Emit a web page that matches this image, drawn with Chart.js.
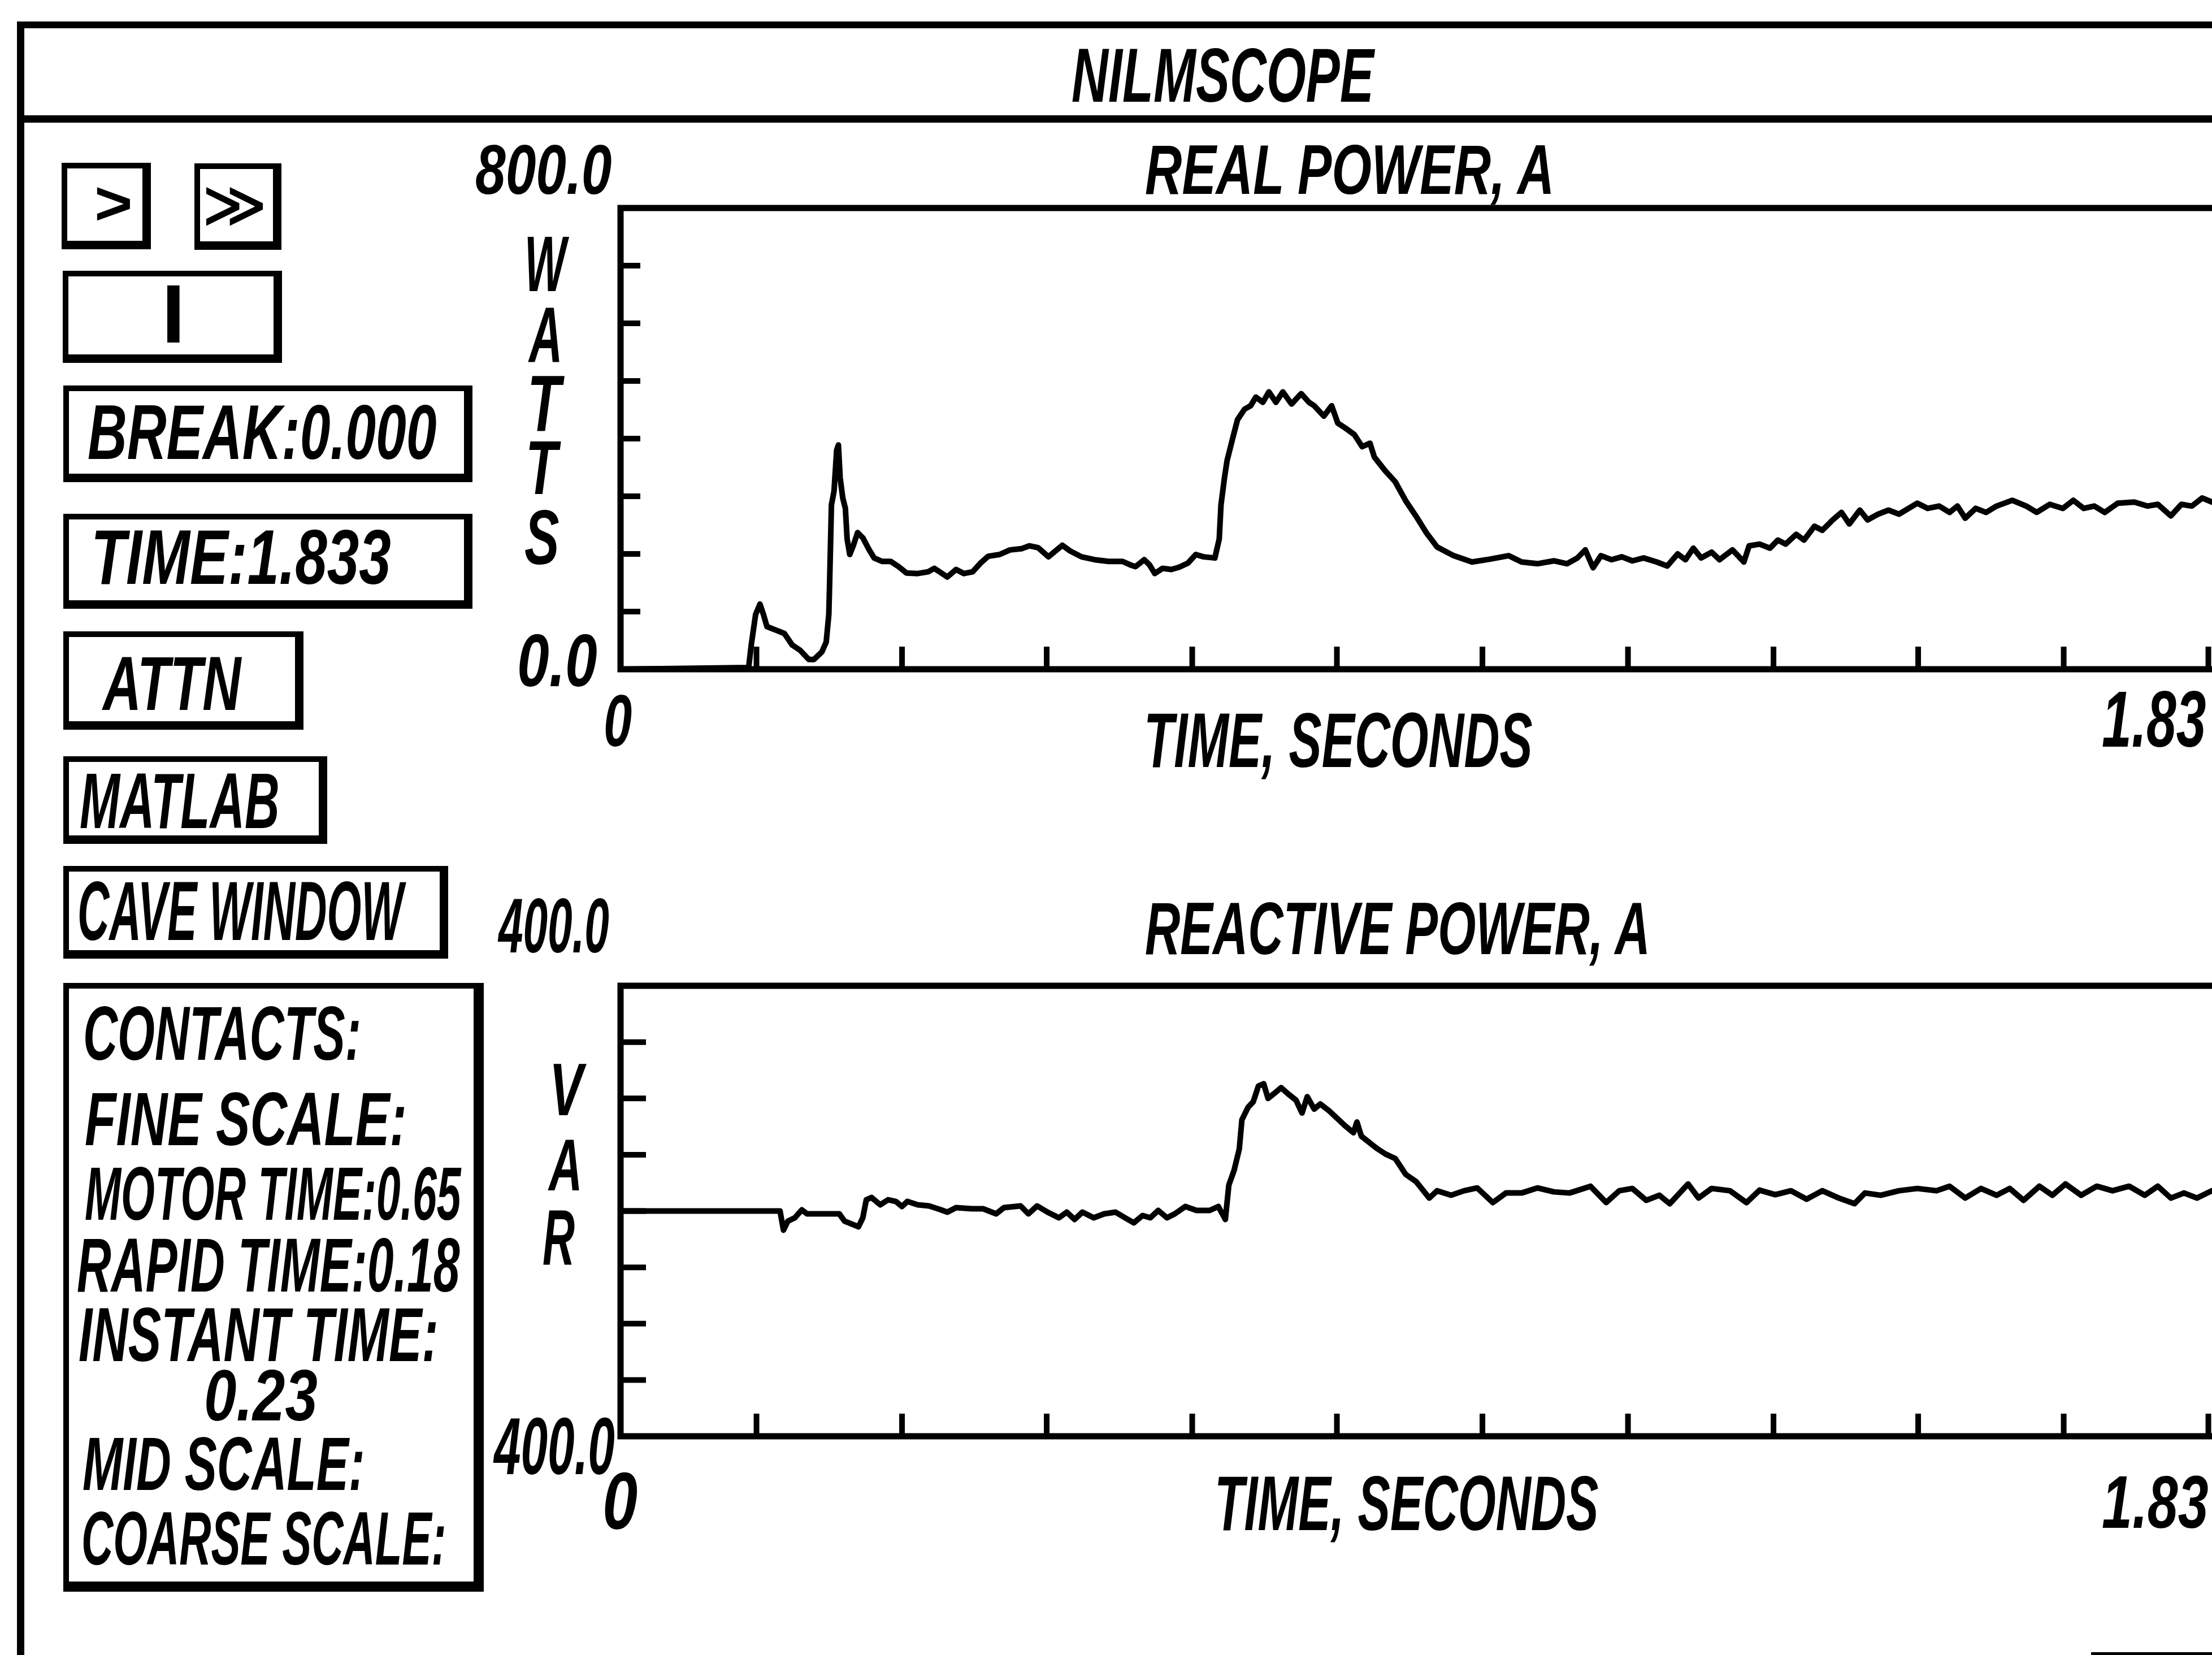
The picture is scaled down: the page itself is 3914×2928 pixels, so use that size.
<!DOCTYPE html>
<html>
<head>
<meta charset="utf-8">
<title>NILMSCOPE</title>
<script src="https://cdn.jsdelivr.net/npm/chart.js@4.4.1/dist/chart.umd.min.js"></script>
<style>
  html, body { margin: 0; padding: 0; background: #fff; }
  body { position: relative; width: 3914px; height: 2928px; overflow: hidden; }
  .bar { position: absolute; background: #000; }
  .box { position: absolute; box-sizing: border-box; border: solid #000; border-width: 10px 15px 15px 10px; }
  .t { position: absolute; white-space: pre; color: #000; line-height: 0; transform-origin: 0 0; }
  canvas { position: absolute; }
</style>
</head>
<body>
<!-- outer frame and title bar -->
<div class="bar" style="left:30px;top:38px;width:3884px;height:12px"></div>
<div class="bar" style="left:30px;top:204px;width:3884px;height:13px"></div>
<div class="bar" style="left:30px;top:38px;width:13px;height:2890px"></div>
<div class="bar" style="left:3700px;top:2923px;width:214px;height:5px"></div>

<!-- control panel boxes -->
<div class="box" style="left:109px;top:288px;width:158px;height:153px"></div>
<div class="box" style="left:344px;top:289px;width:154px;height:153px"></div>
<div class="box" style="left:111px;top:479px;width:388px;height:163px"></div>
<div class="box" style="left:112px;top:682px;width:724px;height:171px"></div>
<div class="box" style="left:112px;top:909px;width:724px;height:168px"></div>
<div class="box" style="left:112px;top:1117px;width:425px;height:174px"></div>
<div class="box" style="left:112px;top:1338px;width:467px;height:155px"></div>
<div class="box" style="left:112px;top:1532px;width:681px;height:164px"></div>
<div class="box" style="left:112px;top:1739px;width:744px;height:1077px;border-width:10px 18px 18px 10px"></div>

<canvas id="realChart" width="2900" height="900" style="left:1060px;top:330px;width:2900px;height:900px"></canvas>
<canvas id="reactChart" width="2900" height="900" style="left:1060px;top:1700px;width:2900px;height:900px"></canvas>

<script>
// time axis, seconds
const xTicks = [0.156, 0.323, 0.489, 0.656, 0.822, 0.989, 1.156, 1.323, 1.489, 1.656, 1.822];
const xRange = [0, 1.8333];

// REAL POWER, A (watts)
const realRange = [0, 800];
const realTicks = [100, 200, 300, 400, 500, 600, 700];
const realTime = [
  0, 0.147, 0.150, 0.155, 0.160, 0.164, 0.168, 0.178, 0.188, 0.197,
  0.206, 0.216, 0.222, 0.231, 0.236, 0.239, 0.240, 0.242, 0.245, 0.248,
  0.250, 0.252, 0.255, 0.258, 0.260, 0.263, 0.267, 0.272, 0.278, 0.285,
  0.291, 0.300, 0.310, 0.319, 0.328, 0.341, 0.353, 0.360, 0.369, 0.375,
  0.385, 0.394, 0.404, 0.413, 0.422, 0.435, 0.447, 0.460, 0.469, 0.479,
  0.491, 0.499, 0.507, 0.516, 0.529, 0.544, 0.560, 0.576, 0.585, 0.591,
  0.601, 0.607, 0.613, 0.622, 0.632, 0.641, 0.651, 0.660, 0.669, 0.682,
  0.687, 0.689, 0.693, 0.696, 0.702, 0.708, 0.716, 0.723, 0.729, 0.737,
  0.744, 0.752, 0.760, 0.770, 0.781, 0.790, 0.796, 0.807, 0.816, 0.823,
  0.832, 0.842, 0.851, 0.860, 0.865, 0.877, 0.889, 0.901, 0.913, 0.925,
  0.937, 0.956, 0.977, 0.998, 1.019, 1.034, 1.052, 1.071, 1.086, 1.098,
  1.107, 1.116, 1.125, 1.137, 1.149, 1.161, 1.174, 1.189, 1.201, 1.213,
  1.222, 1.231, 1.240, 1.252, 1.261, 1.276, 1.289, 1.295, 1.307, 1.319,
  1.328, 1.337, 1.349, 1.358, 1.370, 1.379, 1.391, 1.401, 1.410, 1.422,
  1.431, 1.443, 1.455, 1.467, 1.488, 1.500, 1.513, 1.525, 1.534, 1.543,
  1.555, 1.567, 1.579, 1.597, 1.613, 1.625, 1.640, 1.655, 1.667, 1.679,
  1.691, 1.703, 1.718, 1.737, 1.752, 1.764, 1.779, 1.791, 1.803, 1.815,
  1.826, 1.840
];
const realWatts = [
  0, 3, 42, 95, 113, 95, 74, 68, 62, 42,
  33, 17, 17, 30, 47, 95, 154, 285, 309, 380,
  389, 332, 297, 279, 226, 199, 214, 237, 228, 208,
  193, 187, 187, 178, 167, 166, 169, 175, 166, 160,
  173, 166, 169, 184, 196, 199, 207, 209, 214, 211,
  195, 205, 215, 205, 195, 190, 187, 187, 181, 178,
  190, 181, 166, 175, 173, 177, 184, 199, 195, 193,
  226, 285, 332, 362, 398, 433, 451, 457, 472, 463,
  481, 463, 481, 460, 478, 463, 457, 439, 457, 427,
  418, 407, 386, 392, 368, 345, 325, 292, 265, 236,
  212, 197, 186, 191, 197, 186, 183, 188, 183, 193,
  207, 176, 197, 190, 195, 188, 193, 186, 179, 200,
  190, 210, 193, 203, 190, 207, 186, 214, 217, 210,
  224, 217, 234, 224, 248, 241, 259, 272, 252, 276,
  259, 269, 276, 269, 288, 279, 283, 272, 283, 262,
  279, 272, 283, 293, 283, 272, 286, 279, 293, 279,
  283, 272, 288, 290, 283, 286, 266, 286, 283, 297,
  290, 288
];

// REACTIVE POWER, A (VAR)
const reactRange = [-400, 400];
const reactTicks = [-300, -200, -100, 0, 100, 200, 300];
const reactTime = [
  0, 0.183, 0.187, 0.192, 0.200, 0.208, 0.214, 0.251, 0.257, 0.273,
  0.278, 0.282, 0.288, 0.298, 0.307, 0.316, 0.323, 0.329, 0.341, 0.354,
  0.366, 0.375, 0.385, 0.403, 0.416, 0.431, 0.440, 0.459, 0.468, 0.478,
  0.490, 0.503, 0.512, 0.521, 0.530, 0.543, 0.555, 0.568, 0.580, 0.589,
  0.599, 0.608, 0.617, 0.627, 0.636, 0.648, 0.661, 0.676, 0.686, 0.694,
  0.698, 0.704, 0.710, 0.713, 0.720, 0.726, 0.732, 0.738, 0.743, 0.751,
  0.758, 0.766, 0.775, 0.782, 0.788, 0.796, 0.803, 0.813, 0.822, 0.831,
  0.841, 0.845, 0.850, 0.863, 0.869, 0.878, 0.889, 0.901, 0.913, 0.928,
  0.937, 0.953, 0.968, 0.983, 1.001, 1.016, 1.034, 1.052, 1.071, 1.089,
  1.113, 1.131, 1.146, 1.161, 1.177, 1.192, 1.204, 1.225, 1.237, 1.252,
  1.273, 1.292, 1.307, 1.325, 1.343, 1.361, 1.379, 1.398, 1.416, 1.428,
  1.446, 1.467, 1.488, 1.510, 1.525, 1.543, 1.561, 1.579, 1.594, 1.610,
  1.628, 1.643, 1.658, 1.676, 1.694, 1.712, 1.731, 1.749, 1.764, 1.779,
  1.794, 1.809, 1.826, 1.840
];
const reactVar = [
  0, 0, -34, -18, -12, 2, -5, -5, -18, -28,
  -12, 20, 24, 11, 20, 17, 8, 17, 11, 9,
  3, -2, 6, 4, 4, -5, 6, 9, -5, 9,
  -2, -12, -2, -15, -2, -12, -5, -2, -13, -21,
  -8, -12, 1, -12, -5, 8, 1, 1, 8, -15,
  46, 72, 110, 162, 184, 194, 222, 226, 200, 210,
  219, 208, 197, 174, 203, 181, 190, 178, 165, 152,
  139, 158, 133, 117, 110, 101, 93, 65, 52, 23,
  36, 28, 36, 41, 15, 32, 32, 41, 34, 32,
  44, 15, 36, 40, 19, 28, 13, 48, 23, 40,
  36, 15, 37, 29, 36, 21, 36, 23, 13, 32,
  28, 36, 40, 36, 44, 23, 40, 28, 40, 19,
  44, 28, 48, 28, 44, 36, 44, 28, 44, 23,
  32, 23, 36, 30
];

// text labels: [text, left, right, capTop, baseline, style]
const labels = [
  ["NILMSCOPE", 1897, 2434, 87, 183],
  ["REAL POWER, A", 2027, 2749, 257, 345],
  ["800.0", 842, 1082, 257, 345],
  ["0.0", 919, 1056, 1122, 1216],
  ["0", 1072, 1118, 1230, 1322],
  ["TIME, SECONDS", 2030, 2711, 1262, 1359],
  ["1.83", 3720, 3903, 1223, 1323],
  ["W", 933, 1007, 418, 516],
  ["A", 933, 989, 544, 642],
  ["T", 940, 1000, 663, 762],
  ["T", 936, 993, 779, 874],
  ["S", 929, 989, 902, 1000],
  ["400.0", 880, 1077, 1590, 1687],
  ["REACTIVE POWER, A", 2027, 2917, 1597, 1690],
  ["V", 979, 1038, 1882, 1974],
  ["A", 968, 1024, 2015, 2106],
  ["R", 961, 1017, 2142, 2238],
  ["400.0", 872, 1087, 2508, 2610],
  ["0", 1070, 1127, 2605, 2707],
  ["TIME, SECONDS", 2155, 2828, 2612, 2709],
  ["1.83", 3720, 3907, 2612, 2705],
  [">", 172, 231, 330, 397, "bold"],
  ["\u226B", 365, 466, 330, 400, "bold"],
  ["I", 295, 319, 505, 607, "bold"],
  ["BREAK:0.000", 156, 772, 716, 814],
  ["TIME:1.833", 168, 691, 937, 1035],
  ["ATTN", 179, 428, 1161, 1256],
  ["MATLAB", 142, 492, 1368, 1465],
  ["CAVE WINDOW", 140, 719, 1560, 1665],
  ["CONTACTS:", 150, 635, 1782, 1878],
  ["FINE SCALE:", 151, 716, 1933, 2028],
  ["MOTOR TIME:0.65", 151, 817, 2065, 2160],
  ["RAPID TIME:0.18", 137, 814, 2192, 2288],
  ["INSTANT TIME:", 140, 772, 2315, 2411],
  ["0.23", 365, 561, 2424, 2515],
  ["MID SCALE:", 147, 642, 2543, 2638],
  ["COARSE SCALE:", 147, 786, 2675, 2770]
];

const FONT = '"Liberation Sans Narrow", "Liberation Sans", "DejaVu Sans", sans-serif';
const mctx = document.createElement("canvas").getContext("2d");

// fit a text's ink box to the given rectangle
function placeText(txt, x0, x1, y0, y1, style) {
  const st = style || "italic bold";
  mctx.font = st + " 100px " + FONT;
  const m = mctx.measureText(txt);
  const mv = mctx.measureText(txt.replace(/,/g, ""));
  const inkW = m.actualBoundingBoxLeft + m.actualBoundingBoxRight;
  const inkA = mv.actualBoundingBoxAscent;
  const inkD = Math.max(0, mv.actualBoundingBoxDescent);
  const k = (y1 - y0) / (inkA + inkD);
  const sx = (x1 - x0) / (inkW * k);
  const baseline = y0 + inkA * k;
  const fA = m.fontBoundingBoxAscent * k;
  const fD = m.fontBoundingBoxDescent * k;

  const el = document.createElement("div");
  el.className = "t";
  el.textContent = txt;
  el.style.font = st + " " + (100 * k).toFixed(2) + "px " + FONT;
  el.style.lineHeight = "0";
  el.style.top = (baseline - (fA - fD) / 2).toFixed(1) + "px";
  el.style.left = (x0 + m.actualBoundingBoxLeft * k * sx).toFixed(1) + "px";
  el.style.transform = "scaleX(" + sx.toFixed(4) + ")";
  document.body.appendChild(el);
}

labels.forEach(function (l) {
  placeText(l[0], l[1], l[2], l[3], l[4], l[5]);
});

// box frame and inward tick marks, drawn through the chart scales
const frameTicks = {
  id: "frameTicks",
  afterDatasetsDraw(chart, args, opts) {
    const ctx = chart.ctx;
    const a = chart.chartArea;
    const x = chart.scales.x;
    const y = chart.scales.y;
    ctx.save();
    ctx.strokeStyle = "#000";
    ctx.lineWidth = 11;
    ctx.lineCap = "square";
    ctx.strokeRect(a.left, a.top, a.right - a.left, a.bottom - a.top);
    ctx.lineWidth = 10;
    ctx.lineCap = "butt";
    opts.xTicks.forEach(function (v) {
      const px = x.getPixelForValue(v);
      ctx.beginPath();
      ctx.moveTo(px, a.bottom);
      ctx.lineTo(px, a.bottom - opts.xLen);
      ctx.stroke();
    });
    opts.yTicks.forEach(function (v) {
      const py = y.getPixelForValue(v);
      ctx.beginPath();
      ctx.moveTo(a.left, py);
      ctx.lineTo(a.left + opts.yLen, py);
      ctx.stroke();
    });
    ctx.restore();
  }
};

function makeChart(id, times, values, yRange, yTicks, padding, yLen) {
  const points = times.map(function (t, i) {
    return { x: t, y: values[i] };
  });
  return new Chart(document.getElementById(id), {
    type: "line",
    data: {
      datasets: [{
        data: points,
        borderColor: "#000",
        borderWidth: 10,
        borderJoinStyle: "round",
        borderCapStyle: "round",
        pointRadius: 0,
        tension: 0,
        fill: false
      }]
    },
    options: {
      responsive: false,
      animation: false,
      devicePixelRatio: 1,
      layout: { padding: padding },
      scales: {
        x: { type: "linear", min: xRange[0], max: xRange[1], display: false },
        y: { type: "linear", min: yRange[0], max: yRange[1], display: false }
      },
      plugins: {
        legend: { display: false },
        tooltip: { enabled: false },
        frameTicks: { xTicks: xTicks, yTicks: yTicks, xLen: 40, yLen: yLen }
      }
    },
    plugins: [frameTicks]
  });
}

makeChart("realChart", realTime, realWatts, realRange, realTicks,
  { left: 38, top: 38, right: 35, bottom: 46 }, 35);
makeChart("reactChart", reactTime, reactVar, reactRange, reactTicks,
  { left: 38, top: 44, right: 35, bottom: 59 }, 45);
</script>
</body>
</html>
